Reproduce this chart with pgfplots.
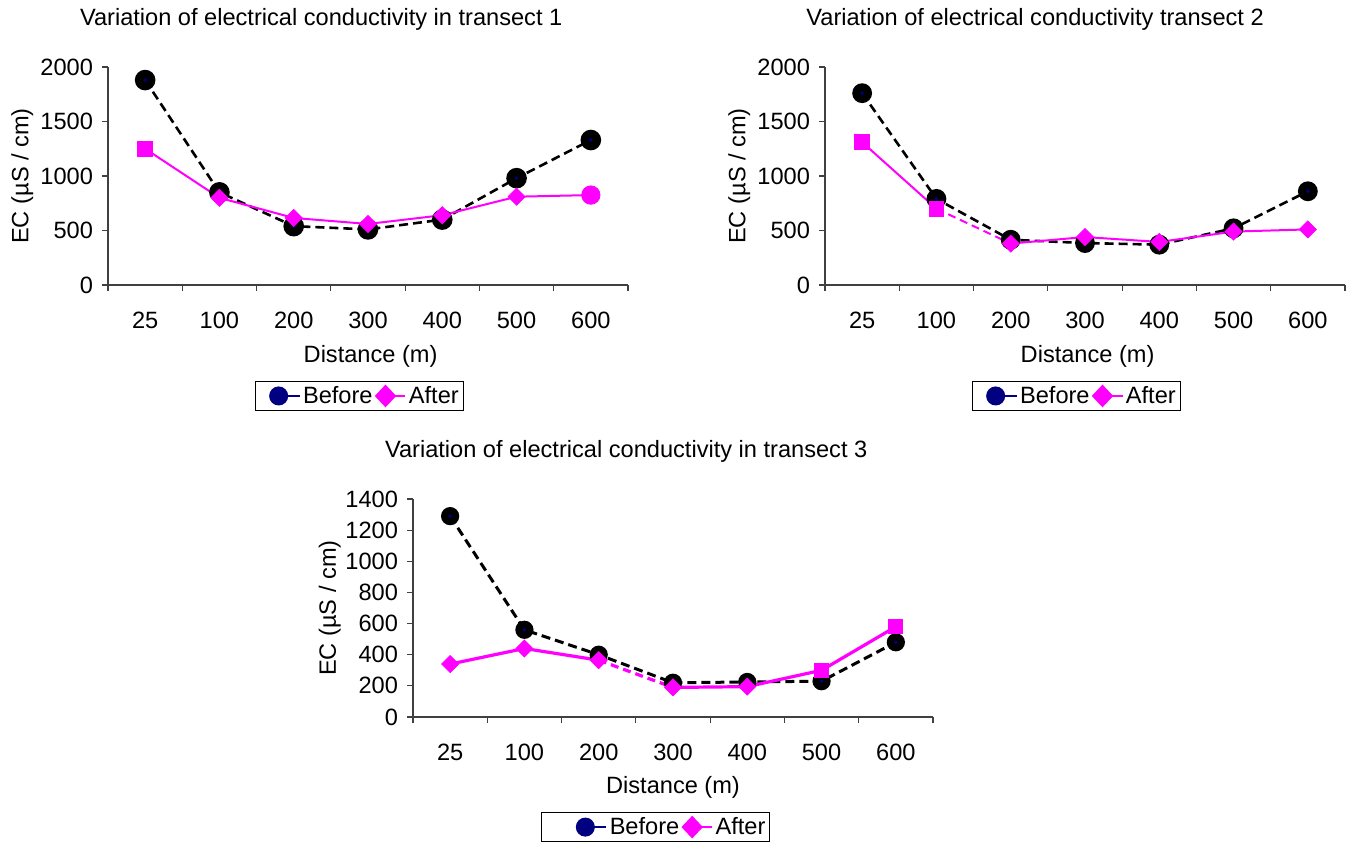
\documentclass[border=0pt]{standalone}
\usepackage{fontspec}
\setmainfont{Liberation Sans}
\usepackage{pgfplots}
\usepackage{pgfplotstable}
\pgfplotsset{compat=1.18}
\definecolor{navy}{RGB}{0,0,128}
\definecolor{mag}{RGB}{255,0,255}
\newcommand{\fs}{\fontsize{11.8}{14}\selectfont}

\pgfplotstableread{
x before after
0 1880 1250
1 850 800
2 540 615
3 510 560
4 600 640
5 980 810
6 1330 825
}\tA
\pgfplotstableread{
x before after
0 1760 1310
1 790 700
2 415 380
3 385 440
4 370 395
5 520 490
6 860 510
}\tB
\pgfplotstableread{
x before after
0 1290 340
1 560 440
2 400 365
3 220 190
4 225 195
5 230 300
6 480 580
}\tC

\pgfplotsset{
 ecaxis/.style={
  scale only axis, width=260pt, height=109pt,
  anchor=south west,
  xmin=-0.5, xmax=6.5, ymin=0,
  axis x line=bottom, axis y line=left,
  axis line style={-, draw=black!75, line width=0.6pt},
  tick style={draw=black!75, line width=0.6pt},
  tick align=outside, major tick length=3pt,
  xtick={-0.5,0.5,1.5,2.5,3.5,4.5,5.5,6.5}, xticklabels={},
  extra x ticks={0,1,2,3,4,5,6},
  extra x tick labels={25,100,200,300,400,500,600},
  extra x tick style={major tick length=0pt},
  xticklabel style={yshift=-10pt},
  yticklabel style={xshift=-1pt},
  tick label style={font=\fs},
  /pgf/number format/assume math mode=true,
  /pgf/number format/1000 sep={},
  xlabel={Distance (m)}, ylabel={EC (µS / cm)},
  label style={font=\fs},
  xlabel style={at={(axis description cs:0.505,-0.326)}, anchor=center},
  ylabel style={at={(axis description cs:-0.165,0.5)}, anchor=center},
  title style={font=\fs, anchor=center},
  legend style={draw=black, line width=0.5pt, legend columns=2, font=\fs, anchor=center,
    inner xsep=1pt, inner ysep=1pt, nodes={inner sep=1.2pt}, column sep=0pt},
  clip=false,
 },
 bline/.style={black, line width=1.3pt, dash pattern=on 4.5pt off 2.5pt, mark=*, mark size=#1, mark options={solid, fill=black}},
 bdot/.style={only marks, mark=*, mark size=0.7pt, navy},
 aline/.style={mag, line width=1pt, mark=none},
 adash/.style={mag, line width=1pt, mark=none, dash pattern=on 4pt off 2.5pt},
 asq/.style={only marks, mag, mark=square*, mark size=#1},
 adi/.style={only marks, mag, mark=square*, mark size=#1, mark options={rotate=45}},
 aci/.style={only marks, mag, mark=*, mark size=#1},
}
\newcommand{\beforeimg}[1]{\addlegendimage{legend image code/.code={\path (-#1,0pt); \draw[navy,line width=1pt] (4.5pt,0pt)--(15pt,0pt); \fill[navy] (4.5pt,0pt) circle (4.5pt);}}}
\newcommand{\afterimg}{\addlegendimage{legend image code/.code={\fill[mag] (0pt,0pt)--(5pt,5.3pt)--(10pt,0pt)--(5pt,-5.3pt)--cycle; \draw[mag,line width=1pt] (5pt,0pt)--(15pt,0pt);}}}

\begin{document}
\begin{tikzpicture}
\useasboundingbox (0,0) rectangle (677pt,421pt);

% Transect 1
\begin{axis}[ecaxis, at={(54pt,278.5pt)}, ymax=2000, ytick={0,500,...,2000},
  title={Variation of electrical conductivity in transect 1}, title style={at={(0.41,1.165)}},
  legend style={at={(0.483,-0.509)}}]
\addplot[bline=4.5pt, forget plot] table[x=x,y=before]{\tA};
\addplot[bdot, forget plot] table[x=x,y=before]{\tA};
\addplot[aline, forget plot] table[x=x,y=after]{\tA};
\addplot[asq=3.7pt, forget plot, restrict x to domain=-0.1:0.1] table[x=x,y=after]{\tA};
\addplot[adi=3pt, forget plot, restrict x to domain=0.9:5.1] table[x=x,y=after]{\tA};
\addplot[aci=4.6pt, forget plot, restrict x to domain=5.9:6.1] table[x=x,y=after]{\tA};
\beforeimg{6pt}\addlegendentry{Before}
\afterimg\addlegendentry{After}
\end{axis}

% Transect 2
\begin{axis}[ecaxis, at={(412.5pt,278.5pt)}, ymax=2000, ytick={0,500,...,2000},
  title={Variation of electrical conductivity transect 2}, title style={at={(0.404,1.165)}},
  legend style={at={(0.483,-0.509)}}]
\addplot[bline=4.3pt, forget plot] table[x=x,y=before]{\tB};
\addplot[bdot, forget plot] table[x=x,y=before]{\tB};
\addplot[aline, forget plot, restrict x to domain=0:1] table[x=x,y=after]{\tB};
\addplot[adash, forget plot, restrict x to domain=1:2] table[x=x,y=after]{\tB};
\addplot[aline, forget plot, restrict x to domain=2:6] table[x=x,y=after]{\tB};
\addplot[asq=3.7pt, forget plot, restrict x to domain=-0.1:1.1] table[x=x,y=after]{\tB};
\addplot[adi=3pt, forget plot, restrict x to domain=1.9:6.1] table[x=x,y=after]{\tB};
\beforeimg{6pt}\addlegendentry{Before}
\afterimg\addlegendentry{After}
\end{axis}

% Transect 3
\begin{axis}[ecaxis, at={(206.5pt,62.5pt)}, ymax=1400, ytick={0,200,...,1400},
  title={Variation of electrical conductivity in transect 3}, title style={at={(0.41,1.165)}},
  xlabel style={at={(axis description cs:0.5,-0.321)}},
  ylabel style={at={(axis description cs:-0.16,0.5)}},
  legend style={at={(0.467,-0.505)}}]
\addplot[bline=3.8pt, line width=1.5pt, forget plot] table[x=x,y=before]{\tC};
\addplot[bdot, forget plot] table[x=x,y=before]{\tC};
\addplot[aline, line width=1.6pt, forget plot, restrict x to domain=0:2] table[x=x,y=after]{\tC};
\addplot[adash, line width=1.6pt, forget plot, restrict x to domain=2:3] table[x=x,y=after]{\tC};
\addplot[aline, line width=1.6pt, forget plot, restrict x to domain=3:6] table[x=x,y=after]{\tC};
\addplot[adi=3pt, forget plot, restrict x to domain=-0.1:4.1] table[x=x,y=after]{\tC};
\addplot[asq=3.5pt, forget plot, restrict x to domain=4.9:6.1] table[x=x,y=after]{\tC};
\beforeimg{16pt}\addlegendentry{Before}
\afterimg\addlegendentry{After}
\end{axis}
\end{tikzpicture}
\end{document}
